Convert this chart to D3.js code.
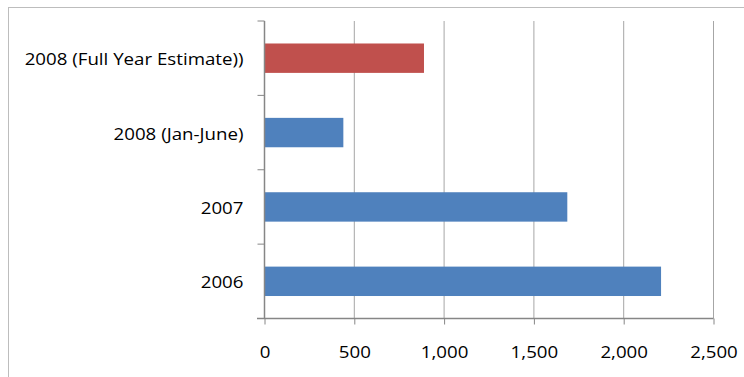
<!DOCTYPE html>
<html>
<head>
<meta charset="utf-8">
<script src="https://cdn.jsdelivr.net/npm/d3@7"></script>
<style>
  body { margin: 0; background: #fff; }
  text { font-family: "Open Sans", Lato, sans-serif; fill: #000; }
</style>
</head>
<body>
<div class="chart"></div>
<script>
  // chart values, top category first
  var categories = ['2008 (Full Year Estimate))', '2008 (Jan-June)', '2007', '2006'];
  var values = [888, 439, 1686, 2208];
  var barColors = ['#C0504D', '#4F81BD', '#4F81BD', '#4F81BD'];
  var xTicks = [0, 500, 1000, 1500, 2000, 2500];

  var width = 744;
  var height = 377;
  // the reference's text is a bit wider than Open Sans, stretch it a little
  var stretch = 1.1;

  var svg = d3.select('.chart')
    .append('svg')
    .attr('width', width)
    .attr('height', height);

  // outer chart frame
  svg.append('rect')
    .attr('x', 8.5).attr('y', 7.5)
    .attr('width', 760).attr('height', 400)
    .attr('fill', 'none')
    .attr('stroke', '#bdbdbd');

  // plot area edges (note: "top" is reserved on window)
  var plotLeft = 264.5, plotRight = 713.5, plotTop = 21, plotBottom = 318.5;

  var x = d3.scaleLinear().domain([0, 2500]).range([plotLeft, plotRight]);
  var band = d3.scaleBand().domain(categories).range([plotTop, plotBottom]);

  // gridlines
  svg.selectAll('.grid')
    .data(xTicks.slice(1))
    .enter()
    .append('line')
    .attr('x1', function(d){ return x(d) })
    .attr('x2', function(d){ return x(d) })
    .attr('y1', plotTop)
    .attr('y2', plotBottom)
    .attr('stroke', '#a6a6a6')
    .attr('stroke-width', 1);

  // bars
  svg.selectAll('.bar')
    .data(values)
    .enter()
    .append('rect')
    .attr('x', x(0))
    .attr('y', function(d, i){ return band(categories[i]) + band.bandwidth() / 2 - 14.7 })
    .attr('height', 29.4)
    .attr('width', function(d){ return x(d) - x(0) })
    .attr('fill', function(d, i){ return barColors[i] });

  // x axis
  var xAxis = svg.append('g')
    .attr('transform', 'translate(0,' + plotBottom + ')')
    .call(d3.axisBottom(x).tickValues(xTicks).tickSize(6).tickPadding(21).tickFormat(d3.format(',')));
  xAxis.select('.domain').attr('stroke', '#868686').attr('stroke-width', 1.5)
    .attr('d', 'M257,0H' + plotRight);
  xAxis.selectAll('.tick line').attr('stroke', '#868686');
  xAxis.selectAll('.tick text')
    .style('font-size', '17px')
    .style('font-family', '"Open Sans", sans-serif')
    .attr('fill', '#000')
    .attr('transform', 'scale(' + stretch + ',1)');

  // y axis with ticks between categories
  var yAxis = svg.append('g')
    .attr('transform', 'translate(' + plotLeft + ',0)');
  yAxis.append('line')
    .attr('x1', 0).attr('x2', 0)
    .attr('y1', plotTop).attr('y2', plotBottom)
    .attr('stroke', '#868686').attr('stroke-width', 1.5);
  yAxis.selectAll('.ytick')
    .data(categories.concat(['end']))
    .enter()
    .append('line')
    .attr('x1', -7).attr('x2', 0)
    .attr('y1', function(d, i){ return plotTop + i * band.bandwidth() })
    .attr('y2', function(d, i){ return plotTop + i * band.bandwidth() })
    .attr('stroke', '#868686');
  yAxis.selectAll('.ylabel')
    .data(categories)
    .enter()
    .append('text')
    .attr('transform', function(d){
      return 'translate(-21,' + (band(d) + band.bandwidth() / 2 + 1) + ') scale(' + stretch + ',1)'
    })
    .attr('dy', '0.35em')
    .attr('text-anchor', 'end')
    .style('font-size', '17px')
    .text(function(d){ return d });
</script>
</body>
</html>
